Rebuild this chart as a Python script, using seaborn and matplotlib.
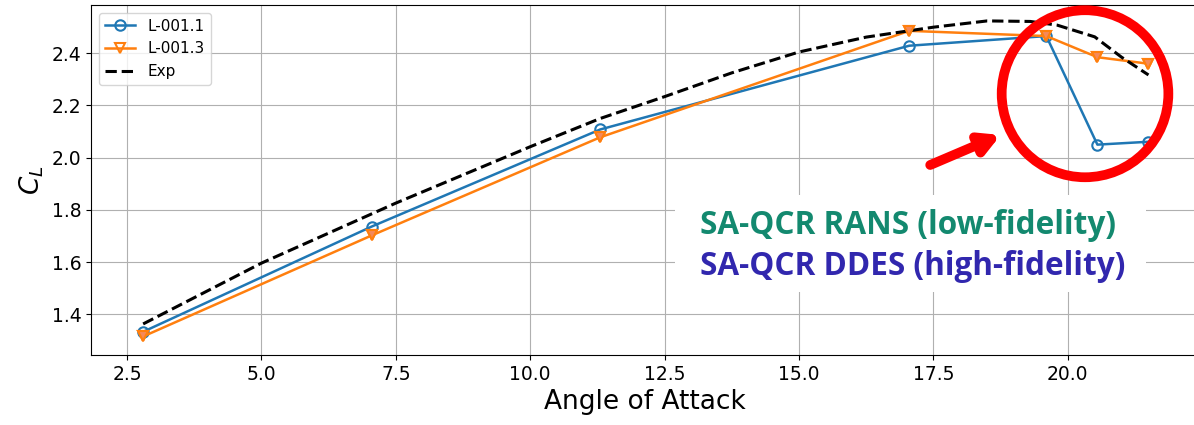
import matplotlib
matplotlib.use("Agg")
import matplotlib.pyplot as plt
from matplotlib.patches import Ellipse, Rectangle
import seaborn as sns

# Lift coefficient vs angle of attack
alpha_sim = [2.8, 7.05, 11.3, 17.05, 19.6, 20.55, 21.5]
cl_l0011 = [1.333, 1.736, 2.108, 2.429, 2.466, 2.050, 2.061]
cl_l0013 = [1.315, 1.702, 2.078, 2.486, 2.466, 2.385, 2.360]

alpha_exp = [2.8, 5.0, 7.5, 10.0, 11.3, 12.5, 13.75, 15.0, 16.25, 17.5, 18.5, 19.3, 19.8,
             20.5, 21.0, 21.5]
cl_exp = [1.363, 1.596, 1.826, 2.042, 2.150, 2.234, 2.325, 2.405, 2.462, 2.500, 2.524,
          2.522, 2.508, 2.463, 2.385, 2.317]

label_a = "L-001.1"
label_b = "L-001.3"
label_exp = "Exp"
note_lo = "SA-QCR RANS (low-fidelity)"
note_hi = "SA-QCR DDES (high-fidelity)"

W, H = 1194, 425
fig = plt.figure(figsize=(W / 100, H / 100), dpi=100)
ax = fig.add_axes([91 / W, 70 / H, (1199 - 91) / W, 350 / H])

sns.lineplot(x=alpha_sim, y=cl_l0011, ax=ax, color="#1f77b4", lw=1.8,
             marker="o", markersize=7.5, markerfacecolor="none",
             markeredgecolor="#1f77b4", markeredgewidth=1.5, label=label_a)
sns.lineplot(x=alpha_sim, y=cl_l0013, ax=ax, color="#ff7f0e", lw=1.8,
             marker="v", markersize=7.5, markerfacecolor="none",
             markeredgecolor="#ff7f0e", markeredgewidth=1.5, label=label_b)
# filled overlay on the L-001.3 markers
ax.plot(alpha_sim, cl_l0013, linestyle="none", marker="v", markersize=7.5,
        markerfacecolor="#f5895a", markeredgecolor="#ff7f0e", markeredgewidth=1.5,
        zorder=2.6)
sns.lineplot(x=alpha_exp, y=cl_exp, ax=ax, color="black", lw=2.2,
             linestyle="--", label=label_exp)

ax.set_xlim(1.83, 22.44)
ax.set_ylim(1.244, 2.585)
ax.grid(True, color="#b0b0b0", lw=0.8)
ax.set_axisbelow(True)
ax.set_xticks([2.5, 5.0, 7.5, 10.0, 12.5, 15.0, 17.5, 20.0])
ax.set_yticks([1.4, 1.6, 1.8, 2.0, 2.2, 2.4])
ax.tick_params(labelsize=13.5)
ax.set_xlabel("Angle of Attack", fontsize=19)
ax.set_ylabel(r"$C_L$", fontsize=19)

ax.legend(loc="upper left", fontsize=11, frameon=True)

# white panel behind the model-fidelity notes
ax.add_patch(Rectangle((12.69, 1.4855), 21.46 - 12.69, 1.857 - 1.4855,
                       facecolor="white", edgecolor="none", zorder=1.8))
ax.text(13.15, 1.708, note_lo, color="#13896f", fontsize=22.7, fontweight="bold",
        family="Open Sans", va="baseline", ha="left", zorder=3)
ax.text(13.15, 1.551, note_hi, color="#3127ae", fontsize=22.7, fontweight="bold",
        family="Open Sans", va="baseline", ha="left", zorder=3)

# highlight of the stall region
ax.add_patch(Ellipse((20.32, 2.245), 3.10, 0.64, facecolor="none",
                     edgecolor="#ff0000", lw=7, zorder=4, clip_on=False))
ax.annotate("", xy=(18.75, 2.087), xytext=(17.44, 1.972),
            arrowprops=dict(arrowstyle="-|>,head_length=1.1,head_width=0.6",
                            color="#ff0000", lw=7, shrinkA=0, shrinkB=0),
            zorder=4)

fig.savefig("out.png", dpi=100)
